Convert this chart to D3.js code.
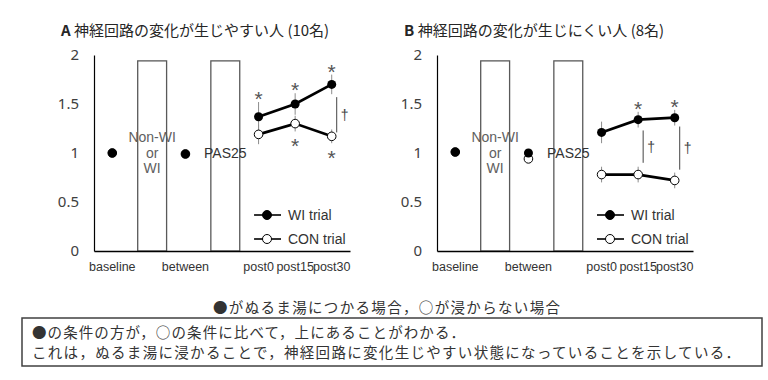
<!DOCTYPE html>
<html><head><meta charset="utf-8">
<script src="https://cdn.jsdelivr.net/npm/d3@7"></script>
<style>body{margin:0;background:#fff;} svg{display:block;}</style>
</head><body><svg id="c" width="768" height="380"></svg>
<script>
// ---------- data ----------
const categories = ["baseline","Non-WI or WI","between","PAS25","post0","post15","post30"];
const tickLabels = ["baseline","","between","","post0","post15","post30"];
const pointCats = ["baseline","between","post0","post15","post30"];
const lineCats = ["post0","post15","post30"];
const boxCats = ["Non-WI or WI","PAS25"];
const boxValues = [1.94, 1.94];
const yTicks = [0, 0.5, 1, 1.5, 2];

const titleA = "神経回路の変化が生じやすい人 (10名)";
const wiA = [1.0, 0.99, 1.37, 1.50, 1.70];
const conA = [1.0, 0.99, 1.19, 1.30, 1.17];
const wiErrA = [0, 0, 0.15, 0.11, 0.10];
const conErrA = [0, 0, 0.10, 0.08, 0.07];
const wiSigA = ["", "", "*", "*", "*"];
const conSigA = ["", "", "", "*", "*"];
const daggerA = [{cat: "post30", lo: 1.21, hi: 1.57}];

const titleB = "神経回路の変化が生じにくい人 (8名)";
const wiB = [1.01, 1.0, 1.21, 1.34, 1.36];
const conB = [1.01, 0.94, 0.78, 0.78, 0.72];
const wiErrB = [0, 0, 0.11, 0.08, 0.08];
const conErrB = [0, 0, 0.08, 0.08, 0.08];
const wiSigB = ["", "", "", "*", "*"];
const conSigB = ["", "", "", "", ""];
const daggerB = [{cat: "post15", lo: 0.90, hi: 1.23}, {cat: "post30", lo: 0.83, hi: 1.27}];

const legendLabels = ["WI trial", "CON trial"];
const captionText = "●がぬるま湯につかる場合，○が浸からない場合";
const noteLines = ["●の条件の方が，○の条件に比べて，上にあることがわかる．",
                   "これは，ぬるま湯に浸かることで，神経回路に変化生じやすい状態になっていることを示している．"];

// ---------- drawing ----------
const svg = d3.select("#c");
svg.append("rect").attr("width",768).attr("height",380).attr("fill","#fff");
const CJK = "'Noto Sans CJK JP','Noto Sans',sans-serif";
const LAT = "'Liberation Sans',Arial,sans-serif";

function panel(ax, letter, title, wi, con, wiErr, conErr, wiSig, conSig, daggers){
  const g = svg.append("g");
  const x = d3.scaleBand().domain(categories).range([ax, ax+256]).padding(0);
  const y = d3.scaleLinear().domain([0,2]).range([251,55]);
  const cx = c => x(c) + x.bandwidth()/2;

  // title
  const t = g.append("text").attr("x", ax-33).attr("y", 36)
    .attr("font-family", CJK).attr("font-size", 15).attr("fill","#262626");
  t.append("tspan").attr("font-weight","bold").text(letter+" ");
  t.append("tspan").text(title);

  // boxes
  const bw = x.bandwidth()*0.79;
  g.selectAll("rect.box").data(boxCats).join("rect").attr("class","box")
    .attr("x", c => cx(c) + x.bandwidth()*0.09 - bw/2)
    .attr("y", (c,i) => y(boxValues[i]))
    .attr("width", bw)
    .attr("height", (c,i) => y(0) - y(boxValues[i]))
    .attr("fill","#fff").attr("stroke","#595959").attr("stroke-width",1.3);

  // box labels
  const b1 = cx(boxCats[0]) + x.bandwidth()*0.09;
  ["Non-WI","or","WI"].forEach((s,i)=>{
    g.append("text").attr("x", b1).attr("y", 142 + i*15.5).attr("text-anchor","middle")
      .attr("font-family", LAT).attr("font-size", 14).attr("fill","#606060").text(s);
  });
  const b2 = cx(boxCats[1]) + x.bandwidth()*0.09;
  g.append("text").attr("x", b2).attr("y", y(1)+5).attr("text-anchor","middle")
    .attr("font-family", LAT).attr("font-size", 14).attr("fill","#333").text("PAS25");

  // y axis
  const yAxis = d3.axisLeft(y).tickValues(yTicks).tickSize(0).tickPadding(15)
    .tickFormat(d3.format("~g"));
  const ya = g.append("g").attr("transform",`translate(${ax},0)`).call(yAxis);
  ya.select(".domain").attr("stroke","#000").attr("stroke-width",1.2);
  ya.selectAll("text").attr("font-family","'Noto Sans',sans-serif").attr("font-size",15).attr("fill","#404040");

  // x axis
  const xAxis = d3.axisBottom(x).tickSize(0).tickPadding(11)
    .tickFormat((d,i) => tickLabels[i]);
  const xa = g.append("g").attr("transform",`translate(0,${y(0)})`).call(xAxis);
  xa.select(".domain").attr("stroke","#000").attr("stroke-width",1.6);
  xa.selectAll("text").attr("font-family", LAT).attr("font-size",12.5).attr("fill","#333");

  const rows = pointCats.map((c,i)=>({c, wi:wi[i], con:con[i], we:wiErr[i], ce:conErr[i], ws:wiSig[i], cs:conSig[i]}));
  const lr = rows.filter(r => lineCats.includes(r.c));

  // error bars
  lr.forEach(r=>{
    g.append("line").attr("x1",cx(r.c)).attr("x2",cx(r.c)).attr("y1",y(r.wi-r.we)).attr("y2",y(r.wi+r.we))
      .attr("stroke","#8c8c8c").attr("stroke-width",1);
    g.append("line").attr("x1",cx(r.c)).attr("x2",cx(r.c)).attr("y1",y(r.con-r.ce)).attr("y2",y(r.con+r.ce))
      .attr("stroke","#8c8c8c").attr("stroke-width",1);
  });

  // lines
  const line = d3.line().x(d=>cx(d.c));
  g.append("path").datum(lr).attr("d", line.y(d=>y(d.con))).attr("fill","none")
    .attr("stroke","#000").attr("stroke-width",2.7);
  g.append("path").datum(lr).attr("d", line.y(d=>y(d.wi))).attr("fill","none")
    .attr("stroke","#000").attr("stroke-width",2.7);

  // markers
  g.selectAll("circle.con").data(rows).join("circle").attr("class","con")
    .attr("cx", d=>cx(d.c)).attr("cy", d=>y(d.con)).attr("r",4.3)
    .attr("fill","#fff").attr("stroke","#000").attr("stroke-width",1);
  g.selectAll("circle.wi").data(rows).join("circle").attr("class","wi")
    .attr("cx", d=>cx(d.c)).attr("cy", d=>y(d.wi)).attr("r",4.5).attr("fill","#000");

  // significance asterisks
  rows.forEach(r=>{
    if (r.ws) g.append("text").attr("x",cx(r.c)).attr("y", y(r.wi+r.we) + 4)
      .attr("text-anchor","middle").attr("font-family",LAT).attr("font-size",21).attr("fill","#555").text(r.ws);
    if (r.cs) g.append("text").attr("x",cx(r.c)).attr("y", y(r.con-r.ce) + 22)
      .attr("text-anchor","middle").attr("font-family",LAT).attr("font-size",21).attr("fill","#555").text(r.cs);
  });

  // dagger brackets
  daggers.forEach(d=>{
    const xx = cx(d.cat) + 5;
    g.append("line").attr("x1",xx).attr("x2",xx).attr("y1",y(d.hi)).attr("y2",y(d.lo))
      .attr("stroke","#444").attr("stroke-width",1);
    g.append("text").attr("x", xx+8).attr("y", (y(d.hi)+y(d.lo))/2 + 5).attr("text-anchor","middle")
      .attr("font-family",LAT).attr("font-size",14).attr("fill","#444").text("†");
  });

  // legend
  legendLabels.forEach((s,i)=>{
    const ly = 215 + i*24;
    g.append("line").attr("x1",ax+160).attr("x2",ax+187).attr("y1",ly).attr("y2",ly)
      .attr("stroke","#000").attr("stroke-width",1.6);
    g.append("circle").attr("cx",ax+173).attr("cy",ly).attr("r",4.5)
      .attr("fill", i===0 ? "#000" : "#fff").attr("stroke","#000").attr("stroke-width",1);
    g.append("text").attr("x",ax+194).attr("y",ly+5).attr("font-family",LAT).attr("font-size",14)
      .attr("fill","#333").text(s);
  });
}

panel(94, "A", titleA, wiA, conA, wiErrA, conErrA, wiSigA, conSigA, daggerA);
panel(437, "B", titleB, wiB, conB, wiErrB, conErrB, wiSigB, conSigB, daggerB);

// caption
svg.append("text").attr("x",213).attr("y",313).attr("font-family",CJK).attr("font-size",14.5)
  .attr("fill","#333").attr("textLength",347).attr("lengthAdjust","spacing").text(captionText);

// note box
svg.append("rect").attr("x",22).attr("y",318).attr("width",740).attr("height",48)
  .attr("fill","#fff").attr("stroke","#404040").attr("stroke-width",1.5);
const noteW = [433, 708];
noteLines.forEach((s,i)=>{
  svg.append("text").attr("x",32).attr("y",338 + i*20).attr("font-family",CJK).attr("font-size",14.5)
    .attr("fill","#333").attr("textLength",noteW[i]).attr("lengthAdjust","spacing").text(s);
});
</script></body></html>
